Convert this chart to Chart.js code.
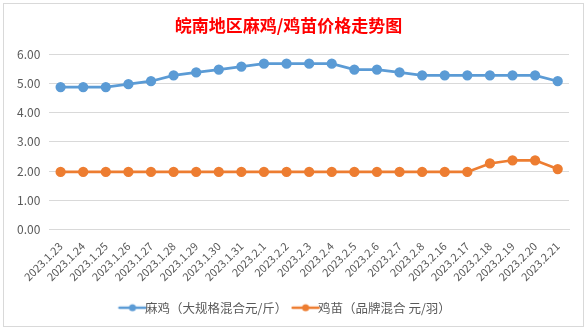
<!DOCTYPE html>
<html>
<head>
<meta charset="utf-8">
<script src="https://cdn.jsdelivr.net/npm/chart.js@4.4.0/dist/chart.umd.min.js"></script>
<style>
  html, body { margin: 0; padding: 0; background: #ffffff; }
  #box {
    position: absolute; left: 3px; top: 3px;
    width: 579px; height: 322px;
    border: 1px solid #d9d9d9; background: #fff;
  }
</style>
</head>
<body>
<div id="box"><canvas id="chart"></canvas></div>
<script>
  // dates along the x axis
  var categories = ["2023.1.23", "2023.1.24", "2023.1.25", "2023.1.26", "2023.1.27", "2023.1.28",
    "2023.1.29", "2023.1.30", "2023.1.31", "2023.2.1", "2023.2.2", "2023.2.3", "2023.2.4",
    "2023.2.5", "2023.2.6", "2023.2.7", "2023.2.8", "2023.2.16", "2023.2.17", "2023.2.18",
    "2023.2.19", "2023.2.20", "2023.2.21"];

  // 麻鸡 price, yuan per jin
  var maji = [4.87, 4.87, 4.87, 4.97, 5.07, 5.27, 5.37, 5.47, 5.57, 5.67, 5.67, 5.67, 5.67,
    5.47, 5.47, 5.37, 5.27, 5.27, 5.27, 5.27, 5.27, 5.27, 5.07];

  // 鸡苗 price, yuan per chick
  var jimiao = [1.97, 1.97, 1.97, 1.97, 1.97, 1.97, 1.97, 1.97, 1.97, 1.97, 1.97, 1.97, 1.97,
    1.97, 1.97, 1.97, 1.97, 1.97, 1.97, 2.26, 2.37, 2.37, 2.07];

  var yTicks = [0, 1, 2, 3, 4, 5, 6];

  var FONT = "'Noto Sans CJK SC', 'Open Sans', sans-serif";
  var BLUE = "#5b9bd5";
  var ORANGE = "#ed7d31";

  // little line-with-dot used as legend marker
  function marker(color) {
    var c = document.createElement("canvas");
    c.width = 30; c.height = 10;
    var g = c.getContext("2d");
    g.strokeStyle = color;
    g.lineWidth = 2.5;
    g.lineCap = "round";
    g.beginPath(); g.moveTo(2, 5); g.lineTo(28, 5); g.stroke();
    g.fillStyle = color;
    g.beginPath(); g.arc(15, 5, 3.5, 0, Math.PI * 2); g.fill();
    return c;
  }

  var ctx = document.getElementById("chart").getContext("2d");

  new Chart(ctx, {
    type: "line",
    data: {
      labels: categories,
      datasets: [
        {
          label: "麻鸡（大规格混合元/斤）",
          data: maji,
          borderColor: BLUE,
          backgroundColor: BLUE,
          borderWidth: 2.75,
          pointRadius: 3.75,
          pointHoverRadius: 3.75,
          pointStyle: "circle",
          tension: 0
        },
        {
          label: "鸡苗（品牌混合 元/羽）",
          data: jimiao,
          borderColor: ORANGE,
          backgroundColor: ORANGE,
          borderWidth: 2.75,
          pointRadius: 3.75,
          pointHoverRadius: 3.75,
          pointStyle: "circle",
          tension: 0
        }
      ]
    },
    options: {
      responsive: true,
      maintainAspectRatio: false,
      animation: false,
      layout: { padding: { left: 4, right: 14, top: 2, bottom: 2 } },
      plugins: {
        title: {
          display: true,
          text: "皖南地区麻鸡/鸡苗价格走势图",
          color: "#ff0000",
          font: { family: FONT, size: 17, weight: "bold" },
          padding: { top: 9, bottom: 18.6 }
        },
        legend: {
          position: "bottom",
          labels: {
            usePointStyle: true,
            color: "#595959",
            font: { family: FONT, size: 12.5 },
            padding: 12,
            generateLabels: function (chart) {
              return chart.data.datasets.map(function (ds, i) {
                return {
                  text: ds.label,
                  fontColor: "#595959",
                  pointStyle: marker(ds.borderColor),
                  datasetIndex: i,
                  hidden: false,
                  lineWidth: 0
                };
              });
            }
          }
        },
        tooltip: { enabled: false }
      },
      scales: {
        x: {
          offset: true,
          grid: { display: false },
          border: { color: "#d9d9d9" },
          afterFit: function (axis) { axis.height += 4; },
          ticks: {
            color: "#595959",
            font: { family: FONT, size: 11 },
            minRotation: 45,
            maxRotation: 45,
            autoSkip: false,
            padding: 2
          }
        },
        y: {
          min: 0,
          max: 6,
          afterBuildTicks: function (axis) {
            axis.ticks = yTicks.map(function (v) { return { value: v }; });
          },
          grid: { color: "#d9d9d9", drawTicks: false },
          border: { display: false },
          ticks: {
            color: "#595959",
            font: { family: FONT, size: 12 },
            padding: 9,
            callback: function (v) { return Number(v).toFixed(2); }
          }
        }
      }
    }
  });
</script>
</body>
</html>
